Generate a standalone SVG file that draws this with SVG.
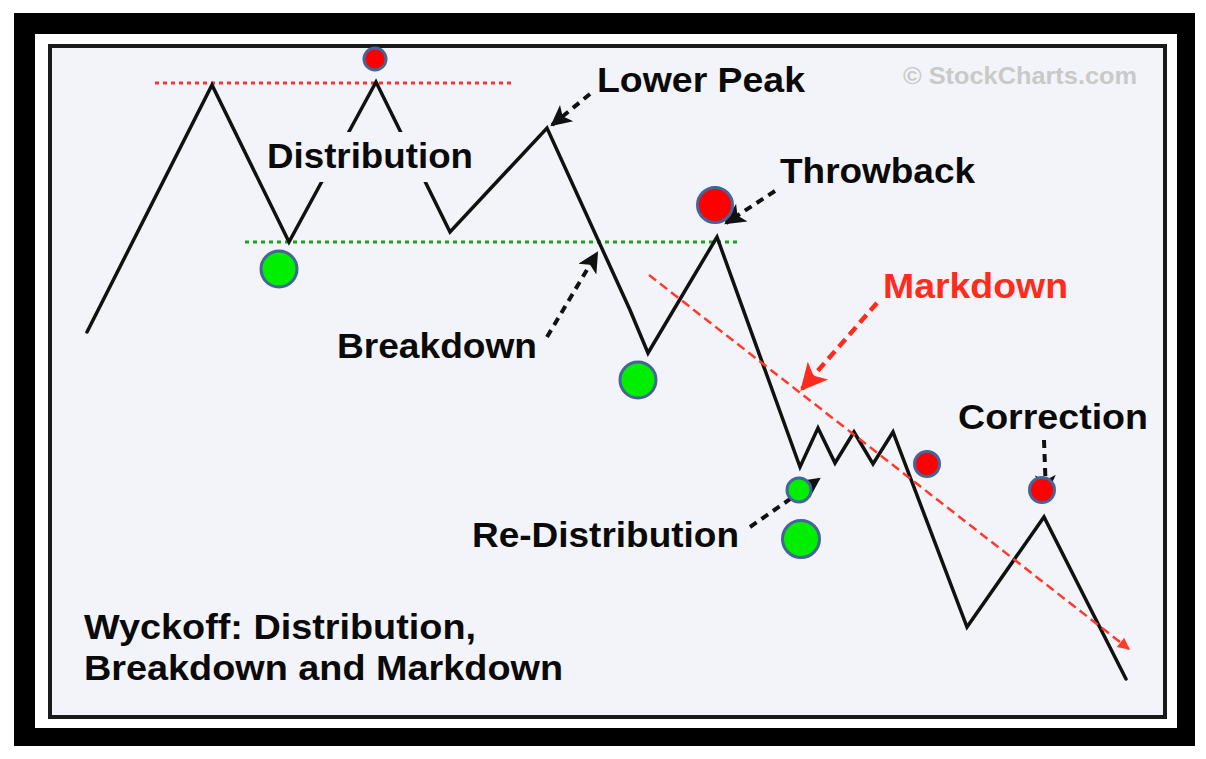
<svg xmlns="http://www.w3.org/2000/svg" width="1206" height="759" viewBox="0 0 1206 759">
  <style>
    .lbl { font-family: "Liberation Sans", Arial, sans-serif; font-weight: bold; font-size: 35px; fill: #0a0a0a; }
    .red { fill: #ff2b1c; }
    .wm { font-family: "Liberation Sans", Arial, sans-serif; font-weight: bold; font-size: 24px; fill: #c9c9c9; }
    .price { fill: none; stroke: #111; stroke-width: 3.5; stroke-linejoin: miter; stroke-linecap: round; }
    .dotR { stroke: #ff3333; stroke-width: 3; stroke-dasharray: 4 4; fill: none; }
    .dotG { stroke: #1fa01f; stroke-width: 3; stroke-dasharray: 4 4; fill: none; }
    .trend { stroke: #ff3a2a; stroke-width: 2.5; stroke-dasharray: 9 5; fill: none; }
    .blk { stroke: #111; stroke-width: 4; stroke-dasharray: 8 6; fill: none; }
    .redarr { stroke: #ff2b1c; stroke-width: 4.5; stroke-dasharray: 10 6; fill: none; }
    .ptR { fill: #ff0000; stroke: #44649a; stroke-width: 3; }
    .ptG { fill: #00ee00; stroke: #44649a; stroke-width: 3; }
  </style>
  <defs>
    <marker id="ahB" viewBox="0 0 10 10" refX="9" refY="5" markerUnits="userSpaceOnUse" markerWidth="24" markerHeight="21" orient="auto">
      <path d="M0,0 L10,5 L0,10 L2.5,5 z" fill="#111"/>
    </marker>
    <marker id="ahR" viewBox="0 0 10 10" refX="9" refY="5" markerUnits="userSpaceOnUse" markerWidth="30" markerHeight="27" orient="auto">
      <path d="M0,0 L10,5 L0,10 L2.5,5 z" fill="#ff2b1c"/>
    </marker>
    <marker id="ahS" viewBox="0 0 10 10" refX="9" refY="5" markerUnits="userSpaceOnUse" markerWidth="14" markerHeight="12" orient="auto">
      <path d="M0,0 L10,5 L0,10 z" fill="#ff3a2a"/>
    </marker>
  </defs>

  <g id="frame">
    <rect x="0" y="0" width="1206" height="759" fill="#ffffff"/>
    <rect x="14" y="13" width="1181" height="733" fill="#000000"/>
    <rect x="35" y="34" width="1142" height="694" fill="#ffffff"/>
    <rect x="50" y="46" width="1115" height="671" fill="#f3f4f9" stroke="#1a1a1a" stroke-width="4"/>
  </g>

  <g id="levels">
    <line class="dotR" x1="155" y1="83" x2="515" y2="83"/>
    <line class="dotG" x1="245" y1="242" x2="740" y2="242"/>
  </g>

  <g id="price-line">
    <polyline class="price" points="87,332 212,85 289,242 376,82 450,232 547,128 630,310 648,353 717,237 800,467 818,428 835,463 854,432 873,464 893,432 967,627 1044,517 1126,679"/>
  </g>

  <g id="trendline">
    <line class="trend" x1="649" y1="275" x2="1129" y2="649" marker-end="url(#ahS)"/>
  </g>

  <g id="label-distribution">
    <rect x="264" y="132" width="212" height="50" fill="#f3f4f9"/>
    <text class="lbl" x="267" y="168" textLength="206" lengthAdjust="spacingAndGlyphs">Distribution</text>
  </g>

  <g id="connectors">
    <line class="blk" x1="590" y1="94" x2="552" y2="125" marker-end="url(#ahB)"/>
    <line class="blk" x1="775" y1="191" x2="726" y2="223" marker-end="url(#ahB)"/>
    <line class="blk" x1="547" y1="337" x2="597" y2="253" marker-end="url(#ahB)"/>
    <line class="redarr" x1="877" y1="303" x2="802" y2="389" marker-end="url(#ahR)"/>
    <line class="blk" x1="750" y1="527" x2="819" y2="479" marker-end="url(#ahB)"/>
    <line class="blk" x1="1044" y1="440" x2="1046" y2="494" marker-end="url(#ahB)"/>
  </g>

  <g id="points">
    <circle id="pt-top" class="ptR" cx="375" cy="59" r="11"/>
    <circle id="pt-dist-low" class="ptG" cx="279" cy="269" r="18"/>
    <circle id="pt-throwback" class="ptR" cx="715" cy="205" r="17.5"/>
    <circle id="pt-breakdown-low" class="ptG" cx="638" cy="380" r="18"/>
    <circle id="pt-redist-small" class="ptG" cx="799" cy="490" r="12"/>
    <circle id="pt-redist-big" class="ptG" cx="801" cy="539" r="18.5"/>
    <circle id="pt-red-mid" class="ptR" cx="927" cy="464" r="12.5"/>
    <circle id="pt-correction" class="ptR" cx="1042" cy="490" r="12.5"/>
  </g>

  <g id="label-lower-peak">
    <text class="lbl" x="597" y="92" textLength="208" lengthAdjust="spacingAndGlyphs">Lower Peak</text>
  </g>
  <g id="label-throwback">
    <text class="lbl" x="780" y="183" textLength="195" lengthAdjust="spacingAndGlyphs">Throwback</text>
  </g>
  <g id="label-markdown">
    <text class="lbl red" x="883" y="298" textLength="185" lengthAdjust="spacingAndGlyphs">Markdown</text>
  </g>
  <g id="label-breakdown">
    <text class="lbl" x="337" y="358" textLength="200" lengthAdjust="spacingAndGlyphs">Breakdown</text>
  </g>
  <g id="label-redistribution">
    <text class="lbl" x="472" y="547" textLength="267" lengthAdjust="spacingAndGlyphs">Re-Distribution</text>
  </g>
  <g id="label-correction">
    <text class="lbl" x="958" y="429" textLength="190" lengthAdjust="spacingAndGlyphs">Correction</text>
  </g>
  <g id="title">
    <text class="lbl" x="84" y="639" textLength="392" lengthAdjust="spacingAndGlyphs">Wyckoff: Distribution,</text>
    <text class="lbl" x="84" y="680" textLength="479" lengthAdjust="spacingAndGlyphs">Breakdown and Markdown</text>
  </g>
  <g id="watermark">
    <text class="wm" x="903" y="84" textLength="234" lengthAdjust="spacingAndGlyphs">© StockCharts.com</text>
  </g>
</svg>
